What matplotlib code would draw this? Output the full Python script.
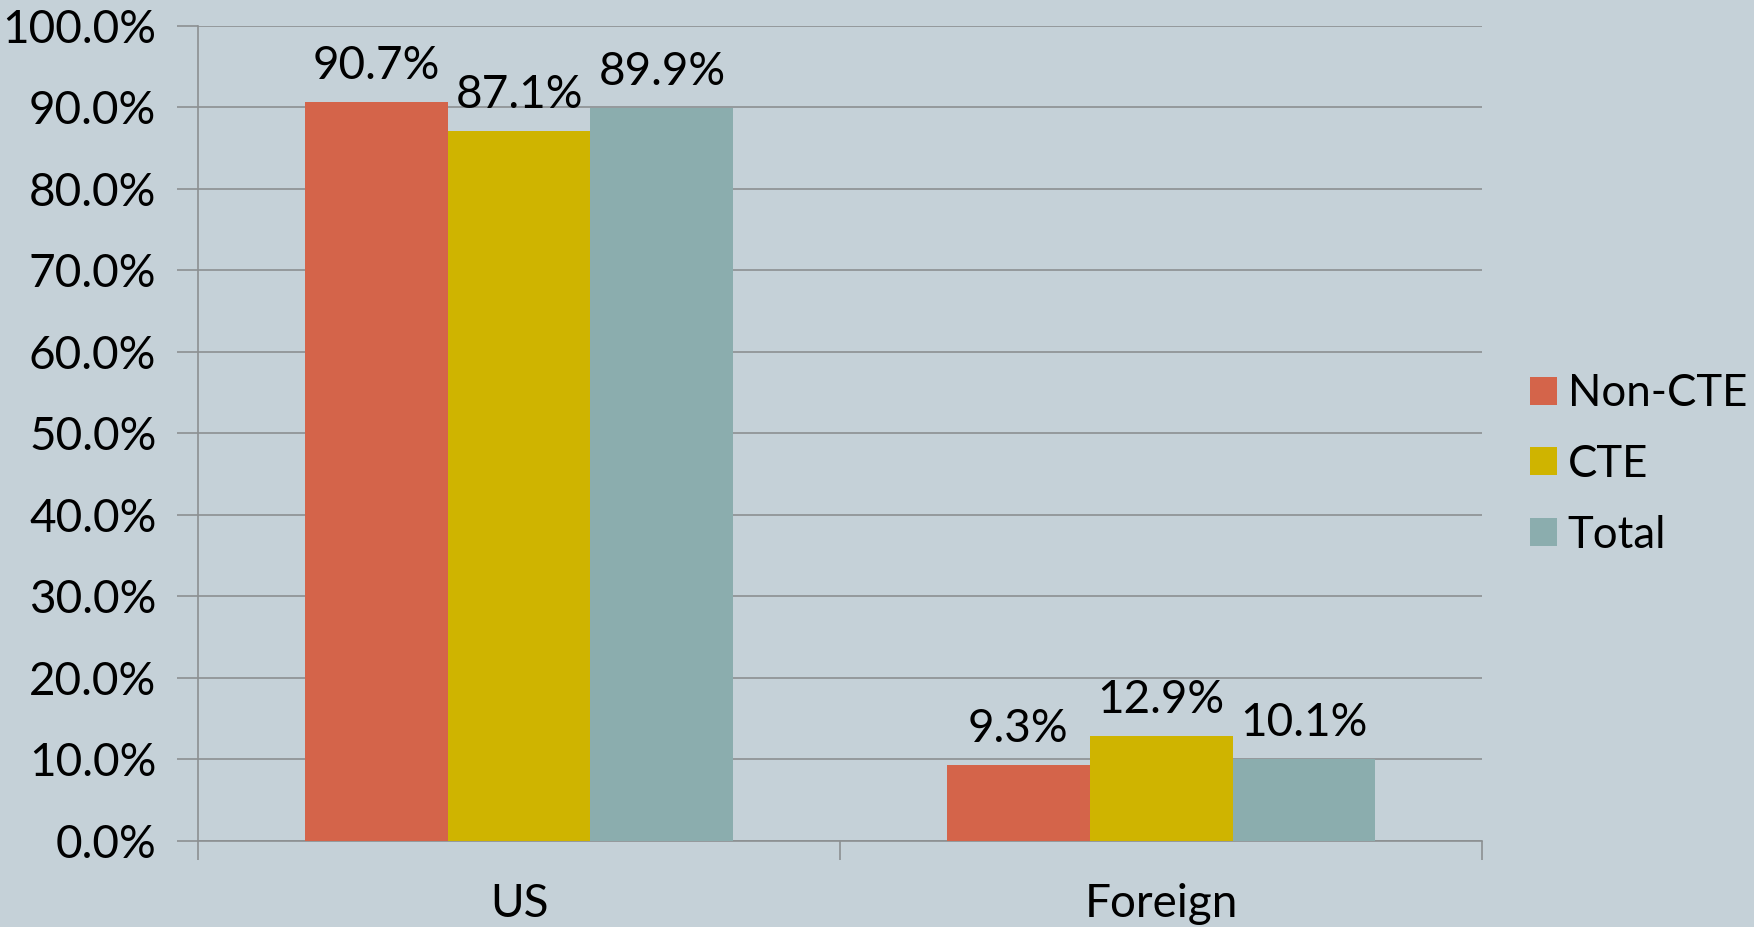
import numpy as np
import matplotlib
matplotlib.use('Agg')
import matplotlib.pyplot as plt
from matplotlib.ticker import FuncFormatter

# Data
categories = ['US', 'Foreign']
series_names = ['Non-CTE', 'CTE', 'Total']
non_cte = [90.7, 9.3]
cte = [87.1, 12.9]
total = [89.9, 10.1]
colors = ['#D4644A', '#CFB400', '#8BADAE']

bg = '#C5D1D8'
grid_c = '#8C9092'
fs = 33

plt.rcParams['font.family'] = ['Lato', 'DejaVu Sans']

fig = plt.figure(figsize=(17.54, 9.27), dpi=100, facecolor=bg)
ax = fig.add_axes([0.1129, 0.0928, 0.7321, 0.8795], facecolor=bg)

x = np.arange(len(categories))
width = 0.2225
for i, (vals, name) in enumerate(zip([non_cte, cte, total], series_names)):
    pos = x + (i - 1) * width
    ax.bar(pos, vals, width, color=colors[i], label=name, zorder=3)
    for px, v in zip(pos, vals):
        ax.text(px, v + 1.8, f'{v:.1f}%', ha='center', va='bottom',
                fontsize=fs, color='black', zorder=4)

ax.set_xlim(-0.5, 1.5)
ax.set_ylim(0, 100)
ax.set_yticks(np.arange(0, 101, 10))
ax.yaxis.set_major_formatter(FuncFormatter(lambda v, p: f'{v:.1f}%'))
ax.yaxis.grid(True, color=grid_c, linewidth=1.2, zorder=0)
ax.set_axisbelow(True)

ax.set_xticks([-0.5, 0.5, 1.5])
ax.set_xticklabels([])
ax.set_xticks(x, minor=True)
ax.set_xticklabels(categories, minor=True)
ax.tick_params(axis='x', which='minor', length=0, pad=30, labelsize=fs)
ax.tick_params(axis='x', which='major', length=14, color=grid_c, width=1.2)
ax.tick_params(axis='y', length=15, color=grid_c, width=1.2, labelsize=fs, pad=15)

for s in ['top', 'right']:
    ax.spines[s].set_visible(False)
for s in ['left', 'bottom']:
    ax.spines[s].set_color(grid_c)
    ax.spines[s].set_linewidth(1.2)

leg = ax.legend(loc='center left', bbox_to_anchor=(1.024, 0.462), frameon=False,
                fontsize=31.5, handlelength=0.6, handleheight=0.6,
                handletextpad=0.25, labelspacing=0.68, borderaxespad=0)

fig.savefig('out.png', dpi=100, facecolor=bg)
